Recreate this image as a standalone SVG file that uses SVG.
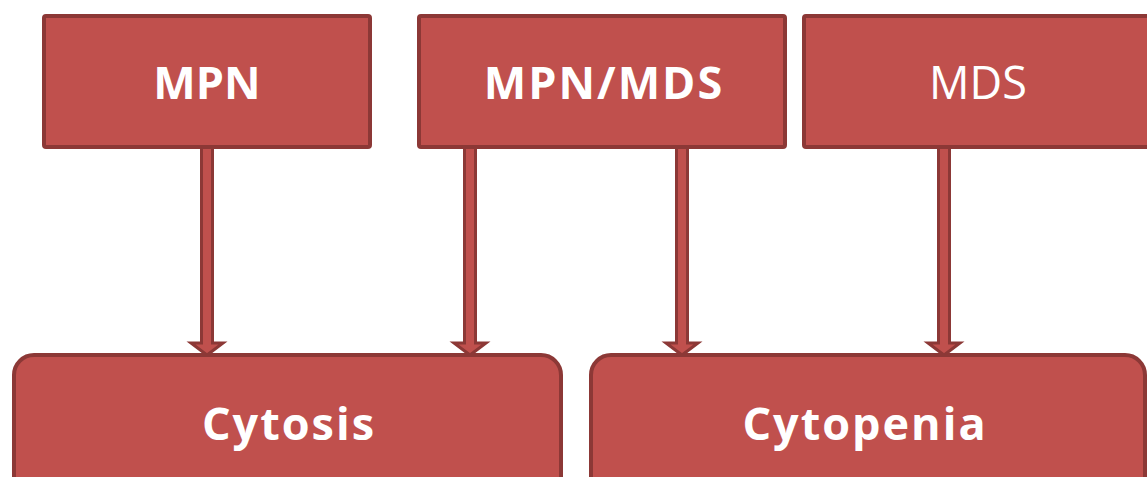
<svg xmlns="http://www.w3.org/2000/svg" width="1147" height="477" viewBox="0 0 1147 477">
<style>
.box{fill:#c0504d;stroke:#8c3836;stroke-width:4;}
.arr{fill:#c0504d;stroke:#8c3836;stroke-width:3;stroke-linejoin:miter;}
.t{font-family:"Open Sans","Liberation Sans",sans-serif;fill:#ffffff;text-anchor:middle;font-size:45px;}
.b{font-weight:bold;}
.w{letter-spacing:2px;}
</style>
<rect width="1147" height="477" fill="#ffffff"/>
<g id="connectors">
<path class="arr" d="M201.5,147 V343 H191 L207,355 L223,343 H212.5 V147 Z"/>
<path class="arr" d="M464.5,147 V343 H454 L470,355 L486,343 H475.5 V147 Z"/>
<path class="arr" d="M676.5,147 V343 H666 L682,355 L698,343 H687.5 V147 Z"/>
<path class="arr" d="M938.5,147 V343 H928 L944,355 L960,343 H949.5 V147 Z"/>
</g>
<g id="node-mpn">
<rect class="box" x="44" y="16" width="326" height="131" rx="2"/>
<text class="t b" x="207" y="99">MPN</text>
</g>
<g id="node-mpnmds">
<rect class="box" x="419" y="16" width="366" height="131" rx="2"/>
<text class="t b w" x="604" y="99">MPN/MDS</text>
</g>
<g id="node-mds">
<rect class="box" x="804" y="16" width="350" height="131" rx="2"/>
<text class="t" x="978" y="99">MDS</text>
</g>
<g id="node-cytosis">
<rect class="box" x="14" y="355" width="547" height="160" rx="20"/>
<text class="t b w" x="289" y="440">Cytosis</text>
</g>
<g id="node-cytopenia">
<rect class="box" x="591" y="355" width="554" height="160" rx="20"/>
<text class="t b w" x="865" y="440">Cytopenia</text>
</g>
</svg>
